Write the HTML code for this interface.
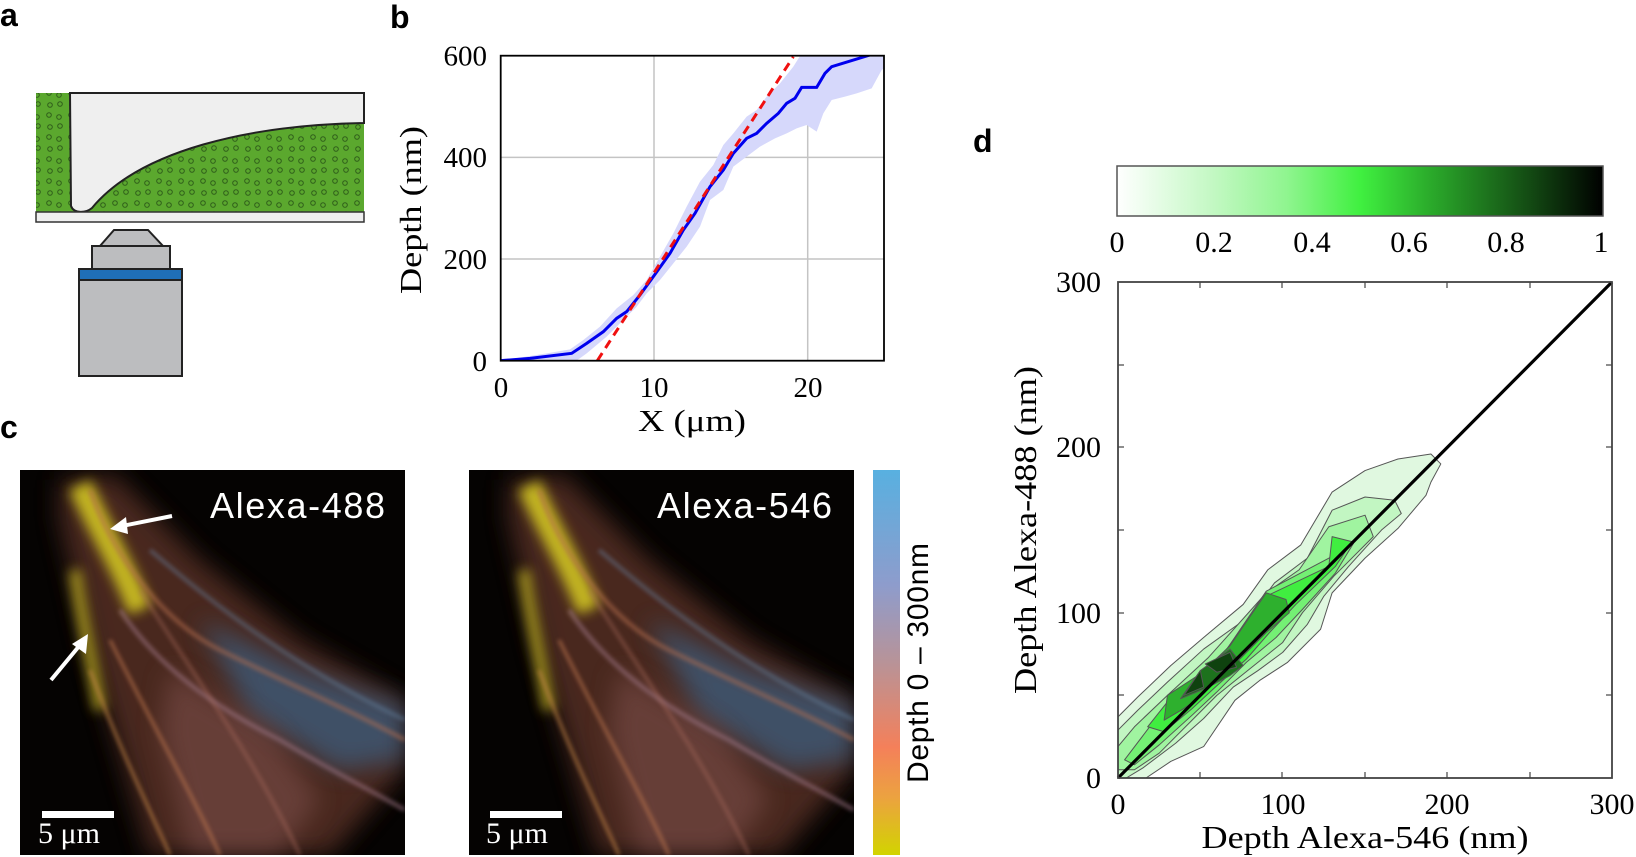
<!DOCTYPE html>
<html><head><meta charset="utf-8"><style>
html,body{margin:0;padding:0;background:#fff;}
svg{display:block;}
.s{font-family:"Liberation Serif",serif;fill:#000;}
.h{font-family:"Liberation Sans",sans-serif;}
</style></head><body>
<svg width="1636" height="857" viewBox="0 0 1636 857" xmlns="http://www.w3.org/2000/svg">
<defs>
<pattern id="dots" width="22" height="22" patternUnits="userSpaceOnUse">
<rect width="22" height="22" fill="#5ba82e"/>
<circle cx="5" cy="5" r="2.3" fill="none" stroke="#2f5e1a" stroke-width="1"/>
<circle cx="16" cy="16" r="2.3" fill="none" stroke="#2f5e1a" stroke-width="1"/>
<circle cx="15" cy="7" r="2.3" fill="none" stroke="#2f5e1a" stroke-width="1"/>
<circle cx="6" cy="17" r="2.3" fill="none" stroke="#2f5e1a" stroke-width="1"/>
</pattern>
<linearGradient id="gcb" x1="0" x2="1" y1="0" y2="0">
<stop offset="0" stop-color="#ffffff"/><stop offset="0.2" stop-color="#c2f8c2"/>
<stop offset="0.35" stop-color="#8ff58f"/><stop offset="0.5" stop-color="#40f040"/>
<stop offset="0.65" stop-color="#2aa82a"/><stop offset="0.85" stop-color="#134a13"/>
<stop offset="1" stop-color="#000"/></linearGradient>
<linearGradient id="gdepth" x1="0" x2="0" y1="0" y2="1">
<stop offset="0" stop-color="#58b0e0"/><stop offset="0.3" stop-color="#8e9ccc"/>
<stop offset="0.5" stop-color="#b89398"/><stop offset="0.72" stop-color="#f4805a"/>
<stop offset="0.85" stop-color="#eca240"/><stop offset="1" stop-color="#d2d400"/></linearGradient>
<filter id="b8" filterUnits="userSpaceOnUse" x="-100" y="-100" width="600" height="600"><feGaussianBlur stdDeviation="12"/></filter>
<filter id="b3" filterUnits="userSpaceOnUse" x="-100" y="-100" width="600" height="600"><feGaussianBlur stdDeviation="6"/></filter>
<filter id="b1" filterUnits="userSpaceOnUse" x="-100" y="-100" width="600" height="600"><feGaussianBlur stdDeviation="2"/></filter>
<clipPath id="cimg"><rect x="0" y="0" width="385" height="385"/></clipPath>
<clipPath id="cb"><rect x="500.7" y="55.7" width="383.3" height="305"/></clipPath>
<clipPath id="cd"><rect x="1118" y="282" width="494" height="496"/></clipPath>
<g id="micro">
<g clip-path="url(#cimg)">
<rect width="385" height="385" fill="#050302"/>
<polygon points="40,10 95,5 180,90 280,170 385,230 385,300 310,385 130,385 70,180 40,50" fill="#5a3226" filter="url(#b8)" opacity="0.8"/>
<polygon points="180,150 280,200 385,235 385,290 320,300 230,245" fill="#3e5a78" filter="url(#b8)" opacity="0.8"/>
<polygon points="150,200 250,260 300,330 260,385 170,385 140,260" fill="#7a4e48" filter="url(#b8)" opacity="0.6"/>
<path d="M60,15 C80,60 100,90 120,140" stroke="#d8cc20" stroke-width="24" fill="none" filter="url(#b3)" opacity="0.85"/>
<path d="M55,100 C60,140 70,180 80,240" stroke="#c0b020" stroke-width="12" fill="none" filter="url(#b3)" opacity="0.8"/>
<path d="M70,20 C90,80 140,150 200,180 C260,210 330,240 385,270" stroke="#b87050" stroke-width="4" fill="none" filter="url(#b1)" opacity="0.6"/>
<path d="M100,140 C140,200 200,240 260,270 C310,300 350,320 385,340" stroke="#a07888" stroke-width="4" fill="none" filter="url(#b1)" opacity="0.6"/>
<path d="M90,170 C130,250 170,320 200,385" stroke="#c07850" stroke-width="3" fill="none" filter="url(#b1)" opacity="0.7"/>
<path d="M70,200 C100,280 130,340 150,385" stroke="#c88848" stroke-width="3" fill="none" filter="url(#b1)" opacity="0.7"/>
<path d="M120,120 C170,200 230,280 280,385" stroke="#b07060" stroke-width="3" fill="none" filter="url(#b1)" opacity="0.5"/>
<path d="M130,80 C200,140 280,200 385,250" stroke="#6888a8" stroke-width="4" fill="none" filter="url(#b1)" opacity="0.45"/>
</g></g>
</defs>

<text x="0" y="26" class="h" font-size="32" font-weight="bold">a</text>
<text x="390" y="28" class="h" font-size="32" font-weight="bold">b</text>
<text x="0" y="438" class="h" font-size="32" font-weight="bold">c</text>
<text x="973" y="152" class="h" font-size="32" font-weight="bold">d</text>

<rect x="36" y="93" width="328" height="119" fill="url(#dots)"/>
<path d="M70,93 H364 V123 C250,125 140,150 92,208 C86,213 74,214 71,206 Z" fill="#efefef" stroke="#222" stroke-width="2"/>
<rect x="36" y="212" width="328" height="10" fill="#efefef" stroke="#333" stroke-width="1.5"/>
<polygon points="114,230 148,230 163,246 100,246" fill="#bcbdbf" stroke="#222" stroke-width="2"/>
<rect x="92" y="246" width="78" height="23" fill="#bcbdbf" stroke="#222" stroke-width="2"/>
<rect x="79" y="269" width="103" height="11" fill="#1f6fb8" stroke="#222" stroke-width="2"/>
<rect x="79" y="280" width="103" height="96" fill="#bcbdbf" stroke="#222" stroke-width="2"/>

<g stroke="#c4c4c4" stroke-width="1.5">
<line x1="654" y1="55.7" x2="654" y2="360.7"/><line x1="807.7" y1="55.7" x2="807.7" y2="360.7"/>
<line x1="500.7" y1="157.4" x2="884" y2="157.4"/><line x1="500.7" y1="259" x2="884" y2="259"/>
</g>
<g clip-path="url(#cb)"><g transform="translate(380,0) scale(0.33333)">
<path d="M362,1082 L500,1060 570,1048 610,1020 660,980 710,925 760,885 800,840 840,770 880,700 920,620 960,545 980,520 1000,495 1030,435 1060,400 1100,350 1130,330 1160,290 1200,250 1240,200 1265,160 1513,160 1513,205 1505,210 1475,265 1430,280 1395,290 1355,300 1330,340 1310,395 1280,375 1250,385 1220,400 1185,415 1140,440 1100,470 1060,500 1030,570 990,600 960,680 920,740 880,790 840,840 800,880 770,920 730,960 680,1010 620,1060 590,1082 Z" fill="#d6d8fb"/>
<polyline points="362,1082 450,1075 575,1060 620,1030 670,995 710,955 740,935 780,885 820,830 870,760 910,690 945,640 990,560 1030,510 1060,460 1100,415 1130,400 1160,370 1195,340 1220,310 1245,295 1265,262 1310,262 1335,220 1355,200 1470,165 1513,150" fill="none" stroke="#0000ee" stroke-width="3" vector-effect="non-scaling-stroke"/>
<line x1="652" y1="1082" x2="1240" y2="170" stroke="#f01010" stroke-width="3" stroke-dasharray="9,6" vector-effect="non-scaling-stroke"/>
</g></g>
<rect x="500.7" y="55.7" width="383.3" height="305" fill="none" stroke="#000" stroke-width="1.8"/>
<g class="s" font-size="29">
<text x="487" y="65.5" text-anchor="end">600</text>
<text x="487" y="167" text-anchor="end">400</text>
<text x="487" y="269" text-anchor="end">200</text>
<text x="487" y="371" text-anchor="end">0</text>
<text x="501" y="397" text-anchor="middle">0</text>
<text x="654" y="397" text-anchor="middle">10</text>
<text x="808" y="397" text-anchor="middle">20</text>
<text x="692" y="431" text-anchor="middle" font-size="31" textLength="108" lengthAdjust="spacingAndGlyphs">X (μm)</text>
<text transform="translate(421,210) rotate(-90)" text-anchor="middle" font-size="31" textLength="168" lengthAdjust="spacingAndGlyphs">Depth (nm)</text>
</g>

<use href="#micro" transform="translate(20,470)"/>
<use href="#micro" transform="translate(469,470)"/>
<text x="210" y="518" class="h" font-size="36" fill="#fff" textLength="175">Alexa-488</text>
<text x="657" y="518" class="h" font-size="36" fill="#fff" textLength="175">Alexa-546</text>
<g stroke="#fff" stroke-width="4" fill="#fff">
<line x1="172" y1="516" x2="122" y2="526"/><polygon points="110,529 126,517 128,534" stroke="none"/>
<line x1="51" y1="680" x2="80" y2="645"/><polygon points="88,634 86,654 72,644" stroke="none"/>
</g>
<rect x="42" y="811" width="72" height="7" fill="#fff"/>
<rect x="490" y="811" width="72" height="7" fill="#fff"/>
<text x="38" y="843" class="s" font-size="30" style="fill:#fff">5 μm</text>
<text x="486" y="843" class="s" font-size="30" style="fill:#fff">5 μm</text>
<rect x="873" y="470" width="27" height="385" fill="url(#gdepth)"/>
<text transform="translate(928,663) rotate(-90)" class="h" font-size="30" text-anchor="middle" textLength="240">Depth 0 – 300nm</text>

<rect x="1117" y="166" width="486" height="50" fill="url(#gcb)" stroke="#555" stroke-width="1.5"/>
<g class="s" font-size="30" text-anchor="middle">
<text x="1117" y="252">0</text><text x="1214" y="252">0.2</text><text x="1312" y="252">0.4</text>
<text x="1409" y="252">0.6</text><text x="1506" y="252">0.8</text><text x="1601" y="252">1</text>
</g>

<g clip-path="url(#cd)"><g transform="translate(1118,778) scale(1.647,-1.653)" stroke="#555" stroke-width="1" stroke-linejoin="round">
<polygon vector-effect="non-scaling-stroke" fill="#e0f8e0" points="0,37 12,49 32,68 52,85 76,105 91,126 111,141 130,173 150,186 170,193 190,196 196,190 190,179 187,171 170,151 150,133 130,112 123,90 103,70 86,59 71,47 52,19 32,10 17,0 0,0"/>
<polygon vector-effect="non-scaling-stroke" fill="#c2f6c2" points="0,29 12,41 30,58 52,78 80,98 95,118 115,133 130,162 150,170 168,168 172,160 160,150 140,128 125,110 115,93 100,76 85,65 70,55 52,36 35,21 15,6 5,0 0,0"/>
<polygon vector-effect="non-scaling-stroke" fill="#a0f4a0" points="0,19 10,31 30,50 55,73 90,112 110,126 128,152 150,159 155,146 131,122 112,100 100,82 80,66 60,50 45,35 25,15 10,5 0,5"/>
<polygon vector-effect="non-scaling-stroke" fill="#74f074" points="4,11 20,32 36,49 62,72 90,113 128,133 143,142 132,124 112,102 96,85 78,70 60,52 45,38 25,20 10,8"/>
<polygon vector-effect="non-scaling-stroke" fill="#40ee40" points="18,31 30,46 60,70 90,110 128,128 130,146 142,143 132,128 108,105 92,88 78,72 58,54 45,42 28,28"/>
<polygon vector-effect="non-scaling-stroke" fill="#2eb02e" points="28,35 30,50 50,63 68,80 90,112 102,108 104,100 90,88 74,72 62,62 50,49 40,42"/>
<polygon vector-effect="non-scaling-stroke" fill="#1d721d" points="38,48 50,65 68,78 76,68 68,62 55,55"/>
<polygon vector-effect="non-scaling-stroke" fill="#0f420f" points="40,50 50,65 52,55"/>
<polygon vector-effect="non-scaling-stroke" fill="#0f420f" points="53,69 68,76 72,67 60,64"/>
</g></g>
<line x1="1118" y1="778" x2="1612" y2="282" stroke="#000" stroke-width="3.2"/>
<g stroke="#444" stroke-width="1.2">
<line x1="1200" y1="778" x2="1200" y2="772"/><line x1="1282" y1="778" x2="1282" y2="772"/><line x1="1365" y1="778" x2="1365" y2="772"/><line x1="1447" y1="778" x2="1447" y2="772"/><line x1="1530" y1="778" x2="1530" y2="772"/>
<line x1="1200" y1="282" x2="1200" y2="288"/><line x1="1282" y1="282" x2="1282" y2="288"/><line x1="1365" y1="282" x2="1365" y2="288"/><line x1="1447" y1="282" x2="1447" y2="288"/><line x1="1530" y1="282" x2="1530" y2="288"/>
<line x1="1118" y1="695" x2="1124" y2="695"/><line x1="1118" y1="613" x2="1124" y2="613"/><line x1="1118" y1="530" x2="1124" y2="530"/><line x1="1118" y1="447" x2="1124" y2="447"/><line x1="1118" y1="365" x2="1124" y2="365"/>
<line x1="1612" y1="695" x2="1606" y2="695"/><line x1="1612" y1="613" x2="1606" y2="613"/><line x1="1612" y1="530" x2="1606" y2="530"/><line x1="1612" y1="447" x2="1606" y2="447"/><line x1="1612" y1="365" x2="1606" y2="365"/>
</g>
<rect x="1118" y="282" width="494" height="496" fill="none" stroke="#444" stroke-width="1.8"/>
<g class="s" font-size="30">
<text x="1101" y="292" text-anchor="end">300</text>
<text x="1101" y="457" text-anchor="end">200</text>
<text x="1101" y="623" text-anchor="end">100</text>
<text x="1101" y="788" text-anchor="end">0</text>
<text x="1118" y="814" text-anchor="middle">0</text>
<text x="1283" y="814" text-anchor="middle">100</text>
<text x="1447" y="814" text-anchor="middle">200</text>
<text x="1612" y="814" text-anchor="middle">300</text>
<text x="1365" y="848" text-anchor="middle" font-size="32" textLength="327" lengthAdjust="spacingAndGlyphs">Depth Alexa-546 (nm)</text>
<text transform="translate(1036,530) rotate(-90)" text-anchor="middle" font-size="32" textLength="328" lengthAdjust="spacingAndGlyphs">Depth Alexa-488 (nm)</text>
</g>
</svg>
</body></html>
